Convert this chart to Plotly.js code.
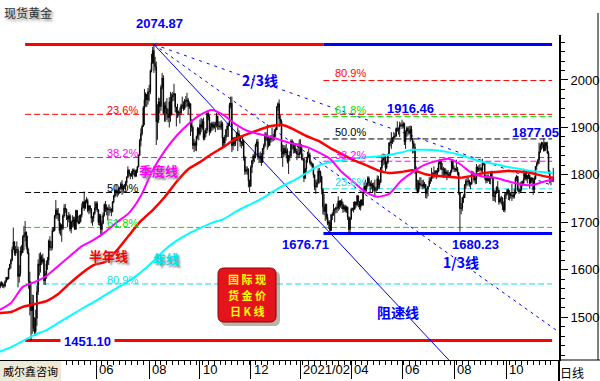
<!DOCTYPE html>
<html><head><meta charset="utf-8">
<script src="https://cdn.plot.ly/plotly-3.0.1.min.js"></script>
<style>html,body{margin:0;padding:0;background:#fff;}#chart{width:600px;height:381px;}</style>
</head><body><div id="chart"></div>
<script>
// Daily bars per month: [high, low, close]
const feb2020 = [[1573,1556,1566],[1575,1561,1570],[1576,1565,1572],[1574,1562,1568],[1570,1561,1566],[1578,1563,1575],[1585,1573,1584],[1585,1578,1581],[1604,1580,1602],[1612,1600,1612],[1624,1603,1620],[1649,1618,1643],[1689,1642,1659],[1660,1630,1635],[1650,1629,1643],[1660,1635,1643],[1649,1563,1586]];
const mar2020 = [[1610,1573,1592],[1649,1586,1640],[1652,1630,1636],[1673,1636,1669],[1692,1641,1673],[1703,1660,1679],[1681,1643,1649],[1672,1633,1636],[1645,1560,1576],[1596,1504,1529],[1575,1451.1,1514],[1548,1465,1526],[1547,1470,1477],[1500,1462,1470],[1516,1461,1498],[1567,1482,1554],[1622,1547,1612],[1635,1588,1610],[1637,1594,1628],[1632,1610,1617],[1634,1613,1622],[1625,1569,1577]];
const apr2020 = [[1597,1568,1590],[1620,1581,1613],[1627,1600,1620],[1664,1610,1661],[1671,1641,1647],[1660,1640,1647],[1690,1642,1683],[1690,1680,1683],[1716,1681,1714],[1747,1708,1726],[1730,1707,1716],[1730,1703,1718],[1718,1676,1683],[1699,1672,1695],[1694,1659,1687],[1717,1684,1714],[1738,1710,1730],[1739,1720,1728],[1729,1705,1713],[1715,1690,1707],[1722,1700,1714],[1718,1681,1686]];
const may2020 = [[1704,1677,1701],[1715,1690,1702],[1712,1691,1706],[1712,1684,1686],[1727,1684,1725],[1723,1700,1702],[1714,1696,1698],[1716,1697,1702],[1717,1700,1715],[1740,1710,1731],[1745,1729,1743],[1765,1724,1731],[1748,1728,1745],[1753,1740,1746],[1750,1721,1725],[1737,1717,1735],[1735,1720,1728],[1730,1698,1709],[1713,1693,1709],[1722,1701,1719],[1744,1716,1730]];
const jun2020 = [[1745,1725,1740],[1744,1722,1727],[1728,1694,1700],[1718,1693,1714],[1718,1670,1685],[1704,1674,1698],[1721,1696,1715],[1740,1712,1737],[1745,1722,1727],[1738,1715,1730],[1733,1704,1726],[1738,1714,1727],[1733,1720,1727],[1730,1713,1723],[1745,1721,1743],[1758,1740,1755],[1769,1752,1768],[1779,1756,1762],[1767,1753,1763],[1773,1757,1771],[1775,1760,1772],[1785,1768,1781]];
const jul2020 = [[1789,1758,1770],[1777,1761,1775],[1779,1770,1776],[1787,1767,1784],[1797,1780,1795],[1818,1793,1810],[1812,1797,1803],[1804,1791,1798],[1808,1796,1802],[1813,1791,1810],[1814,1799,1808],[1811,1795,1797],[1812,1797,1810],[1819,1804,1817],[1843,1816,1842],[1876,1840,1872],[1898,1860,1887],[1906,1883,1902],[1945,1901,1941],[1981,1905,1958],[1974,1944,1970],[1970,1943,1958],[1983,1948,1975]];
const aug2020 = [[1990,1955,1976],[2022,1970,2019],[2055,2016,2037],[2070,2034,2062],[2074.87,2015,2035],[2049,2020,2028],[2039,1863,1912],[1949,1874,1915],[1963,1909,1954],[1962,1930,1944],[1990,1935,1985],[2015,1980,2004],[2010,1928,1930],[1953,1912,1946],[1955,1912,1940],[1962,1916,1929],[1940,1911,1921],[1964,1900,1954],[1975,1912,1928],[1972,1925,1964],[1975,1955,1968]];
const sep2020 = [[1992,1956,1971],[1972,1932,1943],[1943,1902,1931],[1950,1920,1933],[1936,1923,1930],[1942,1908,1931],[1950,1926,1946],[1965,1939,1947],[1955,1935,1940],[1960,1937,1956],[1966,1942,1955],[1973,1944,1958],[1962,1928,1944],[1955,1939,1950],[1951,1882,1912],[1917,1891,1900],[1904,1854,1862],[1876,1848,1867],[1872,1851,1862],[1883,1850,1881],[1901,1875,1898],[1900,1873,1886]];
const oct2020 = [[1917,1883,1906],[1920,1890,1900],[1918,1895,1913],[1921,1873,1877],[1894,1873,1887],[1899,1880,1894],[1932,1888,1930],[1932,1915,1922],[1926,1883,1891],[1909,1888,1901],[1912,1893,1908],[1912,1894,1900],[1912,1897,1905],[1912,1890,1908],[1931,1900,1924],[1925,1895,1904],[1913,1895,1902],[1913,1895,1901],[1915,1895,1908],[1912,1860,1877],[1880,1859,1867],[1884,1860,1879]];
const nov2020 = [[1897,1872,1895],[1909,1880,1903],[1910,1880,1904],[1952,1903,1948],[1965,1940,1951],[1965,1848,1862],[1880,1852,1877],[1880,1860,1866],[1880,1861,1873],[1890,1872,1889],[1900,1850,1887],[1894,1871,1880],[1883,1860,1870],[1872,1856,1866],[1882,1861,1871],[1875,1830,1837],[1840,1800,1807],[1818,1802,1811],[1818,1800,1812],[1814,1774,1788],[1790,1764,1776]];
const dec2020 = [[1820,1777,1816],[1832,1804,1830],[1844,1823,1840],[1848,1827,1838],[1866,1835,1864],[1875,1859,1870],[1876,1832,1838],[1846,1825,1836],[1849,1825,1840],[1846,1819,1827],[1857,1825,1855],[1866,1843,1862],[1890,1858,1885],[1890,1872,1881],[1907,1853,1872],[1882,1858,1862],[1880,1862,1875],[1884,1868,1877],[1900,1870,1880],[1886,1871,1877],[1896,1873,1893],[1900,1880,1895]];
const jan2021 = [[1945,1897,1943],[1953,1935,1950],[1959,1901,1918],[1926,1905,1913],[1917,1836,1849],[1864,1817,1844],[1863,1837,1856],[1862,1841,1846],[1866,1835,1851],[1856,1824,1828],[1842,1802,1840],[1850,1830,1840],[1875,1836,1871],[1875,1853,1869],[1870,1845,1856],[1865,1846,1855],[1867,1845,1850],[1855,1831,1844],[1867,1835,1843],[1875,1836,1847]];
const feb2021 = [[1875,1843,1860],[1865,1831,1835],[1845,1830,1834],[1836,1785,1793],[1815,1791,1813],[1838,1806,1831],[1849,1826,1838],[1855,1836,1842],[1847,1822,1826],[1830,1818,1823],[1826,1811,1818],[1824,1794,1800],[1801,1768,1775],[1789,1760,1775],[1791,1773,1784],[1814,1780,1808],[1815,1782,1806],[1809,1784,1797],[1797,1759,1770],[1772,1717,1733]];
const mar2021 = [[1760,1715,1723],[1740,1703,1738],[1739,1706,1711],[1718,1694,1698],[1704,1686,1700],[1705,1676.71,1683],[1718,1682,1716],[1721,1705,1716],[1739,1714,1726],[1730,1700,1727],[1733,1719,1731],[1740,1720,1730],[1755,1724,1745],[1746,1727,1735],[1747,1731,1745],[1750,1728,1738],[1743,1720,1728],[1737,1722,1733],[1737,1721,1725],[1735,1720,1732],[1733,1705,1711],[1712,1678,1685],[1712,1677,1708]];
const apr2021 = [[1731,1705,1728],[1731,1724,1729],[1743,1721,1728],[1745,1726,1743],[1742,1731,1737],[1758,1735,1756],[1756,1732,1744],[1745,1727,1732],[1748,1725,1747],[1749,1735,1736],[1765,1736,1764],[1784,1760,1777],[1790,1763,1770],[1784,1765,1779],[1797,1775,1793],[1797,1776,1783],[1786,1764,1777],[1789,1770,1780],[1783,1763,1777],[1784,1765,1774],[1790,1756,1768],[1775,1763,1768]];
const may2021 = [[1799,1767,1792],[1798,1771,1779],[1790,1771,1784],[1817,1783,1815],[1843,1807,1831],[1845,1820,1836],[1844,1822,1837],[1843,1808,1815],[1829,1812,1826],[1845,1823,1843],[1869,1843,1867],[1874,1860,1869],[1890,1855,1870],[1880,1865,1877],[1890,1869,1881],[1889,1874,1882],[1900,1880,1898],[1913,1891,1897],[1900,1885,1896],[1912,1880,1905],[1910,1901,1905]];
const jun2021 = [[1916.46,1897,1903],[1912,1898,1908],[1910,1863,1870],[1894,1855,1891],[1902,1880,1898],[1902,1883,1893],[1903,1885,1888],[1904,1870,1896],[1903,1873,1877],[1877,1845,1866],[1871,1846,1858],[1866,1802,1812],[1818,1767,1773],[1790,1761,1764],[1789,1762,1783],[1795,1770,1779],[1795,1776,1779],[1789,1770,1776],[1790,1771,1781],[1785,1772,1780],[1780,1751,1761],[1772,1750,1770]];
const jul2021 = [[1777,1755,1776],[1795,1776,1787],[1795,1781,1792],[1815,1786,1797],[1806,1792,1802],[1818,1793,1803],[1810,1795,1808],[1810,1791,1806],[1815,1795,1808],[1829,1805,1825],[1834,1822,1829],[1830,1810,1812],[1825,1795,1812],[1817,1794,1811],[1815,1795,1803],[1814,1796,1806],[1810,1789,1802],[1810,1794,1798],[1806,1794,1799],[1810,1795,1806],[1832,1805,1828],[1832,1811,1814]];
const aug2021 = [[1820,1806,1813],[1815,1806,1810],[1832,1807,1813],[1817,1799,1805],[1806,1758,1763],[1760,1680.23,1729],[1741,1717,1730],[1754,1724,1752],[1759,1741,1752],[1781,1753,1779],[1791,1770,1787],[1795,1776,1786],[1795,1778,1787],[1790,1775,1781],[1785,1770,1781],[1809,1779,1805],[1808,1797,1802],[1805,1784,1789],[1797,1780,1792],[1823,1781,1817],[1817,1806,1810],[1821,1806,1814]];
const sep2021 = [[1823,1808,1814],[1816,1806,1810],[1834,1805,1827],[1828,1820,1823],[1827,1790,1795],[1800,1782,1788],[1801,1783,1794],[1801,1786,1788],[1796,1781,1794],[1808,1780,1804],[1809,1792,1794],[1795,1745,1755],[1769,1745,1754],[1767,1742,1764],[1776,1760,1774],[1787,1764,1768],[1768,1737,1743],[1754,1740,1750],[1756,1738,1751],[1753,1726,1734],[1744,1722,1726],[1764,1721,1757]];
const oct2021 = [[1764,1749,1761],[1770,1757,1769],[1771,1747,1760],[1768,1746,1761],[1764,1750,1756],[1781,1745,1757],[1762,1750,1754],[1770,1750,1760],[1796,1759,1793],[1800,1787,1797],[1797,1765,1768],[1772,1760,1765],[1785,1762,1769],[1787,1765,1782],[1788,1776,1783],[1813,1780,1792],[1810,1789,1807],[1810,1788,1792],[1800,1782,1798],[1802,1791,1800],[1800,1771,1783]];
const nov2021 = [[1796,1781,1793],[1795,1784,1788],[1793,1758,1769],[1797,1763,1792],[1818,1790,1818],[1828,1811,1824],[1834,1820,1831],[1868,1823,1849],[1866,1846,1862],[1870,1853,1868],[1869,1856,1864],[1877.05,1849,1851],[1870,1852,1868],[1869,1854,1861],[1870,1844,1846],[1850,1802,1805],[1810,1782,1790],[1793,1778,1788],[1795,1785,1790],[1815,1785,1792]];
const firstOpen = 1560;

const months = [feb2020,mar2020,apr2020,may2020,jun2020,jul2020,aug2020,sep2020,oct2020,nov2020,dec2020,jan2021,feb2021,mar2021,apr2021,may2021,jun2021,jul2021,aug2021,sep2021,oct2021,nov2021];
const monthTickText = ['','','','','06','','08','','10','','12','','2021/02','','04','','06','','08','','10',''];
const monthTicked   = [false,false,true,false,true,false,true,false,true,false,true,false,true,false,true,false,true,false,true,false,true,false];

// Moving averages (trading-day index, price)
const maIdx = [0,10,20,30,40,50,60,70,80,90,100,110,120,130,140,150,160,170,180,190,200,210,220,230,240,250,260,270,280,290,300,310,320,330,340,350,360,370,380,390,400,410,420,430,440,450,460,469];
const maQuarter = [1515,1530,1564,1574,1587,1608,1629,1650,1663,1680,1701,1720,1756,1810,1850,1882,1907,1926,1937,1926,1907,1893,1886,1880,1872,1865,1859,1848,1834,1806,1785,1764,1754,1760,1787,1806,1821,1829,1834,1823,1804,1796,1794,1787,1781,1778,1785,1791];
const maHalfYear = [1509,1511,1522,1528,1534,1549,1572,1593,1610,1617,1642,1673,1703,1726,1753,1785,1812,1827,1844,1859,1876,1886,1895,1903,1905,1895,1882,1872,1857,1844,1831,1821,1810,1804,1806,1810,1802,1798,1796,1794,1798,1804,1806,1808,1807,1804,1798,1794];
const maYear = [1427,1437,1450,1463,1473,1488,1503,1518,1532,1547,1562,1577,1595,1617,1642,1661,1676,1688,1699,1707,1722,1735,1747,1762,1777,1789,1804,1819,1827,1831,1835,1837,1839,1842,1847,1853,1853,1852,1848,1842,1834,1827,1823,1817,1813,1808,1806,1804];

// swing points
const swingHigh = 2074.87, swingLow = 1451.10, secondLow = 1676.71;
const peakIdx = 131;           // 2020-08-07
const startIdx = 22, secondStartIdx = 274.5, endIdx = 468;
const fib1Ratios = [0.236,0.382,0.5,0.618,0.809];
const fib1Colors = ['#ff0000','#ff00ff','#000000','#00e000','#00e5ee'];
const fib1Text = ['23.6%','38.2%','50.0%','61.8%','80.9%'];
const fib2Ratios = [0.809,0.618,0.5,0.382,0.236];
const fib2Colors = ['#ff0000','#00e000','#000000','#ff00ff','#00e5ee'];
const fib2Text = ['80.9%','61.8%','50.0%','38.2%','23.6%'];
// speed resistance lines: end anchors [index, price]
const lineResist = [380.6, 1410];
const lineOneThird = [472, 1472];
const lineTwoThird = [468, 1778];
const logoLines = ['国 际 现','货 金 价','日 K 线'];

// ---- assemble bars
const xs=[], op=[], hi=[], lo=[], cl=[], monthStart=[];
let prev = firstOpen;
months.forEach(m=>{ monthStart.push(xs.length); m.forEach(r=>{ xs.push(xs.length); op.push(prev); hi.push(r[0]); lo.push(r[1]); cl.push(r[2]); prev=r[2]; }); });

const majorTicks = monthStart.filter((v,i)=>monthTicked[i]);
const minorTicks = []; for(let i=2;i<470;i+=5) minorTicks.push(i);

const PW=559, PH=325, TOP=35;
const px = x=>x/PW, py = y=>(TOP+PH-y)/PH;
const LAT = 'Liberation Sans, Arial, sans-serif';
const CJK = 'Noto Sans CJK SC, sans-serif';

const traces = [
 {type:'candlestick', x:xs, open:op, high:hi, low:lo, close:cl,
  increasing:{line:{color:'#000',width:0.9},fillcolor:'#000'},
  decreasing:{line:{color:'#000',width:0.9},fillcolor:'#000'},
  whiskerwidth:0, hoverinfo:'skip', showlegend:false},
 {type:'scatter', mode:'lines', x:maIdx, y:maYear, line:{color:'#00ffff',width:2,shape:'spline',smoothing:0.6}, hoverinfo:'skip'},
 {type:'scatter', mode:'lines', x:maIdx, y:maHalfYear, line:{color:'#ff0000',width:2.5,shape:'spline',smoothing:0.6}, hoverinfo:'skip'},
 {type:'scatter', mode:'lines', x:maIdx, y:maQuarter, line:{color:'#ff00ff',width:2,shape:'spline',smoothing:0.6}, hoverinfo:'skip'}
];

const shapes = [];
const hl = (x0,x1,y,color,width,dash,layer)=>shapes.push({type:'line',xref:'x',yref:'y',x0,x1,y0:y,y1:y,line:{color,width,dash:dash||'solid'},layer:layer||'below'});
fib1Ratios.forEach((r,i)=>hl(startIdx,endIdx,swingHigh-r*(swingHigh-swingLow),fib1Colors[i],1,'6px,3px'));
fib2Ratios.forEach((r,i)=>hl(secondStartIdx,endIdx,secondLow+r*(swingHigh-secondLow),fib2Colors[i],1,'6px,3px'));
hl(startIdx,secondStartIdx,swingHigh,'#ff0000',3);
hl(secondStartIdx,endIdx,swingHigh,'#0000ff',3);
hl(startIdx,endIdx,swingLow,'#ff0000',3);
hl(secondStartIdx,endIdx,secondLow,'#0000ff',3);
const tl=(end,dash)=>shapes.push({type:'line',xref:'x',yref:'y',x0:peakIdx,y0:swingHigh,x1:end[0],y1:end[1],line:{color:'#0000ff',width:1,dash},layer:'below'});
tl(lineResist,'solid'); tl(lineOneThird,'3px,4px'); tl(lineTwoThird,'3px,5px');

// frame pieces
const pl=(x0,y0,x1,y1,w)=>shapes.push({type:'line',xref:'paper',yref:'paper',x0:px(x0),y0:py(y0),x1:px(x1),y1:py(y1),line:{color:'#000',width:w},layer:'above'});
pl(559,360,559,381,2);
pl(598,13,598,360,1);
pl(559,360,600,360,1);
// bottom-left box
shapes.push({type:'rect',xref:'paper',yref:'paper',x0:px(0),x1:px(61),y0:py(381),y1:py(361),fillcolor:'#ece9d6',line:{width:0},layer:'above'});
// logo
function rr(x0,y0,x1,y1,r){
  return `M${px(x0+r)},${py(y0)} L${px(x1-r)},${py(y0)} Q${px(x1)},${py(y0)} ${px(x1)},${py(y0+r)} L${px(x1)},${py(y1-r)} Q${px(x1)},${py(y1)} ${px(x1-r)},${py(y1)} L${px(x0+r)},${py(y1)} Q${px(x0)},${py(y1)} ${px(x0)},${py(y1-r)} L${px(x0)},${py(y0+r)} Q${px(x0)},${py(y0)} ${px(x0+r)},${py(y0)} Z`;
}
shapes.push({type:'path',xref:'paper',yref:'paper',path:rr(221,271,280,326,6),fillcolor:'rgba(120,120,100,0.55)',line:{width:0},layer:'above'});
shapes.push({type:'path',xref:'paper',yref:'paper',path:rr(218,268,276,322,6),fillcolor:'#e5141c',line:{color:'#8a0000',width:1},layer:'above'});

const anns = [];
const A=(text,x,y,color,size,fam,extra)=>anns.push(Object.assign({text,xref:'paper',yref:'paper',x:px(x),y:py(y),showarrow:false,xanchor:'center',yanchor:'middle',font:{family:fam||LAT,size,color}},extra||{}));
A('现货黄金',2,12,'#333',12,CJK,{xanchor:'left',font:{family:CJK,size:12,color:'#333',shadow:'2px 2px 3px #777'}});
A('<b>2074.87</b>',159,24,'#0000ff',13);
A('<b>1916.46</b>',410,108,'#0000ff',13);
A('<b>1877.05</b>',535,132,'#0000ff',13);
A('<b>1676.71</b>',305,245,'#0000ff',13);
A('<b>1680.23</b>',475,245,'#0000ff',13);
A('<b>1451.10</b>',87,341,'#0000ff',13,LAT,{bgcolor:'#ffffff',borderpad:3});
A('<b>2/3线</b>',260,80,'#0000ff',14,CJK);
A('<b>1/3线</b>',461,262,'#0000ff',14,CJK);
A('<b>阻速线</b>',398,312,'#0000ff',14,CJK);
const sh='2px 2px 2px #888';
A('<b>季度线</b>',158,170,'#ff00ff',13,CJK,{font:{family:CJK,size:13,color:'#ff00ff',shadow:sh}});
A('<b>半年线</b>',108,256,'#ff0000',13,CJK,{font:{family:CJK,size:13,color:'#ff0000',shadow:sh}});
A('<b>年线</b>',166,258,'#00e5ee',13,CJK,{font:{family:CJK,size:13,color:'#00e5ee',shadow:sh}});
const f1y=[110,153,188,223,280], f2y=[73,110,132,155,182];
fib1Text.forEach((t,i)=>A(t,105,f1y[i],fib1Colors[i],11,LAT,{xanchor:'left'}));
fib2Text.forEach((t,i)=>A(t,333,f2y[i],fib2Colors[i],11,LAT,{xanchor:'left'}));
const logoY=[279,295,311];
logoLines.forEach((t,i)=>A('<b>'+t+'</b>',247,logoY[i],'#ffff00',11,CJK,{borderpad:0}));
A('威尔鑫咨询',30,371,'#000',11,CJK);
A('日线',558,372,'#000',12,CJK,{xanchor:'left'});
majorTicks.forEach((t)=>{ const i=monthStart.indexOf(t); if(monthTickText[i]) anns.push({text:monthTickText[i],xref:'x',yref:'paper',x:t,y:py(369),xanchor:'left',yanchor:'middle',xshift:1,showarrow:false,font:{family:LAT,size:13,color:'#000'}}); });

const layout = {
  width:600, height:381, margin:{l:0,r:41,t:35,b:21},
  paper_bgcolor:'#fff', plot_bgcolor:'#fff', showlegend:false, hovermode:false,
  xaxis:{type:'linear', range:[0.75,473.85], showgrid:false, zeroline:false, showline:true, linecolor:'#000', linewidth:1,
    tickmode:'array', tickvals:majorTicks, ticks:'outside', ticklen:18, tickcolor:'#000', tickwidth:1, showticklabels:false,
    rangeslider:{visible:false},
    minor:{tickmode:'array', tickvals:minorTicks, ticks:'outside', ticklen:4, tickcolor:'#000', tickwidth:1, showgrid:false}},
  yaxis:{side:'right', range:[1410.0,2094.8], showgrid:false, zeroline:false, showline:true, linecolor:'#000', linewidth:2,
    tickmode:'linear', tick0:0, dtick:100, ticks:'outside', ticklen:7, tickcolor:'#000', tickwidth:1,
    tickfont:{family:LAT,size:13,color:'#000'},
    minor:{dtick:20, ticks:'outside', ticklen:4, tickcolor:'#000', tickwidth:1, showgrid:false}},
  shapes, annotations:anns
};
Plotly.newPlot('chart', traces, layout, {staticPlot:true, displayModeBar:false});
</script></body></html>
